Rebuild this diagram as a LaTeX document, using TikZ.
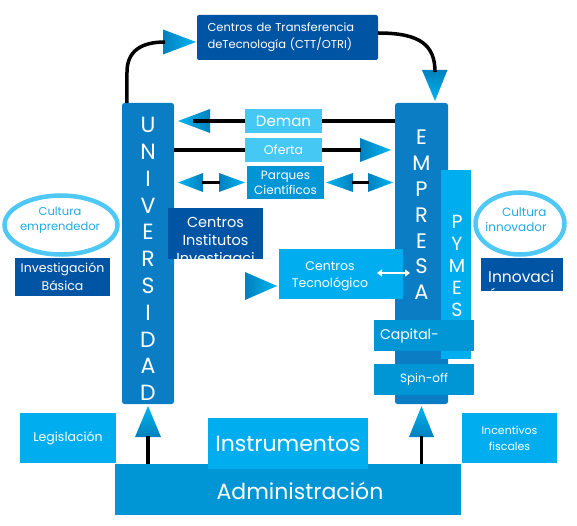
\documentclass[tikz,border=0pt]{standalone}
\usepackage{fontspec}
\setmainfont{Poppins}
\usetikzlibrary{shapes.geometric,arrows.meta}

\definecolor{unicol}{RGB}{11,125,196}
\definecolor{darkcol}{RGB}{0,84,164}
\definecolor{cyancol}{RGB}{0,174,239}
\definecolor{lightcol}{RGB}{70,200,245}
\definecolor{midcol}{RGB}{0,150,214}
\definecolor{ellcol}{RGB}{80,200,245}
\definecolor{elltext}{RGB}{30,170,228}
\definecolor{arrdark}{RGB}{0,128,190}
\definecolor{arrlight}{RGB}{0,182,240}

\newcommand{\fsz}[2]{\fontsize{#1}{#2}\selectfont}

\tikzset{
  box/.style={rectangle, inner sep=0pt, text=white, align=center},
  tall/.style={box, fill=unicol, rounded corners=2.5pt, minimum height=301},
  letters/.style={inner sep=0pt, text=white, align=center},
  bubble/.style={ellipse, draw=ellcol, line width=4.5pt, inner sep=0pt},
  link/.style={line width=3.5pt, black},
  tri r/.style={left color=arrdark, right color=arrlight},
  tri l/.style={left color=arrlight, right color=arrdark},
  tri u/.style={bottom color=arrdark, top color=arrlight},
  tri d/.style={top color=arrdark, bottom color=arrlight}
}

\begin{document}
\begin{tikzpicture}[x=1pt,y=-1pt]
  \useasboundingbox (0,0) rectangle (577,526);

  % the two columns
  \node[tall, minimum width=52] (univ) at (148,253.5) {};
  \node[letters, font=\fsz{22}{26.8}] (univtxt) at (148,259)
    {U\\N\\I\\V\\E\\R\\S\\I\\D\\A\\D};
  \node[tall, minimum width=53] (empresa) at (421.5,253.5) {};
  \node[letters, font=\fsz{21}{25.8}] (emptxt) at (421.5,215)
    {E\\M\\P\\R\\E\\S\\A};
  \node[box, fill=cyancol, minimum width=30, minimum height=189] (pymes) at (456,264.5) {};
  \node[letters, font=\fsz{19}{22}] (pymestxt) at (457,266) {P\\Y\\M\\E\\S};

  % boxes sitting on the columns
  \node[box, fill=cyancol, minimum width=124, minimum height=50] (ctec) at (341,274) {};
  \node[letters, font=\fsz{12.5}{17}] (ctectxt) at (330,276) {Centros\\Tecnológico};
  \node[box, fill=midcol, minimum width=100, minimum height=31, text width=88,
        align=left, font=\fsz{14}{16}] (capital) at (424,335.5) {Capital-};
  \node[box, fill=midcol, minimum width=100, minimum height=31,
        font=\fsz{12}{14}] (spin) at (424,379.5) {Spin-off};

  % arrow heads
  \shade[tri r] (163,29.5) -- (196,42) -- (163,54.5) -- cycle;
  \coordinate (cttin) at (165,42);
  \shade[tri d] (422,70) -- (447.5,70) -- (435,101) -- cycle;
  \coordinate (empin) at (435,72);
  \shade[tri l] (178,121) -- (210,109) -- (210,133) -- cycle;
  \coordinate (demanend) at (193,121);
  \shade[tri r] (360,138) -- (391,150) -- (360,162) -- cycle;
  \coordinate (oferarr) at (361,150);
  \shade[tri l] (178,182.5) -- (203,173) -- (203,192) -- cycle;
  \shade[tri r] (219,173) -- (245,182.5) -- (219,192) -- cycle;
  \shade[tri l] (326,182.5) -- (353,173) -- (353,192) -- cycle;
  \shade[tri r] (368,173) -- (393,182.5) -- (368,192) -- cycle;
  \shade[tri r] (245,272) -- (277,286) -- (245,300) -- cycle;
  \shade[tri u] (135,437) -- (148,406) -- (161,437) -- cycle;
  \coordinate (unitri) at (148,436);
  \shade[tri u] (409,437) -- (421.5,406) -- (434,437) -- cycle;
  \coordinate (emptri) at (421.5,436);

  % lower part
  \node[box, fill=midcol, minimum width=346, minimum height=51] (admin) at (288,489.5) {};
  \node[letters, font=\fsz{22}{24}] (admintxt) at (300,491) {Administración};
  \node[box, fill=cyancol, minimum width=160, minimum height=51,
        font=\fsz{22}{26}] (instr) at (288,443.5) {Instrumentos};
  \node[box, fill=cyancol, minimum width=96, minimum height=50,
        font=\fsz{12.5}{14}] (legis) at (68,438) {Legislación};
  \node[box, fill=cyancol, minimum width=95, minimum height=50,
        font=\fsz{11}{16}] (incent) at (509.5,438) {Incentivos\\fiscales};

  % connectors
  \draw[link] ([xshift=5pt]univ.north west) -- (127,72)
    .. controls (127,52) and (140,42) .. (cttin);
  \draw[link] (demanend) -- (empresa.west |- demanend);
  \draw[link] (univ.east |- oferarr) -- (oferarr);
  \draw[link] (202,182.5) -- (220,182.5);
  \draw[link] (352,182.5) -- (369,182.5);
  \draw[link] (admin.north -| unitri) -- (unitri);
  \draw[link] (admin.north -| emptri) -- (emptri);

  % labels between the columns
  \node[box, fill=darkcol, rounded corners=2pt, minimum width=181, minimum height=45,
        text width=160, align=left, font=\fsz{11.5}{17}] (ctt) at (287.5,37.5)
    {Centros de Transferencia\\deTecnología (CTT/OTRI)};
  \draw[link] ([yshift=4.5pt]ctt.east) .. controls (420,33) and (435,45) .. (empin);
  \node[box, fill=lightcol, minimum width=77, minimum height=24,
        font=\fsz{15}{17}] (deman) at (283.5,121) {Deman};
  \node[box, fill=lightcol, minimum width=77, minimum height=24,
        font=\fsz{12.5}{15}] (oferta) at (283.5,150) {Oferta};
  \node[box, fill=midcol, minimum width=77, minimum height=33,
        font=\fsz{12}{15}] (parques) at (285.5,182.5) {Parques\\Científicos};
  \node[box, fill=darkcol, minimum width=95, minimum height=51] (cinst) at (215.5,233.5) {};
  \begin{scope}
    \clip (cinst.south west) rectangle (cinst.north east);
    \node[letters, font=\fsz{14.5}{18}] (cinsttxt) at (215.5,242)
      {Centros\\Institutos\\Investigaci};
  \end{scope}

  % left side
  \node[bubble, minimum width=113, minimum height=59] (cemp) at (61,225) {};
  \node[letters, text=elltext, font=\fsz{11.5}{15}] (cemptxt) at (60,220.5)
    {Cultura\\emprendedor};
  \node[box, fill=darkcol, minimum width=95, minimum height=38,
        font=\fsz{12.5}{18}] (invbas) at (62.5,277) {Investigación\\Básica};

  % right side
  \node[bubble, minimum width=89, minimum height=62] (cinn) at (520,223.5) {};
  \node[letters, text=elltext, align=right, font=\fsz{12}{15}] (cinntxt) at (516,219.5)
    {Cultura\\innovador};
  \node[box, fill=darkcol, minimum width=82, minimum height=33] (innov) at (522,274.5) {};
  \begin{scope}
    \clip (innov.south west) rectangle (innov.north east);
    \node[letters, anchor=base west, font=\fsz{15.5}{18}] (innovtxt) at (488,282) {Innovaci};
    \node[letters, anchor=base west, font=\fsz{15.5}{18}] (innovend) at (488,300) {ón};
  \end{scope}

  % link between Tecnológico and Empresa
  \draw[white, line width=1.6pt, {Triangle[length=5pt,width=7pt]}-{Triangle[length=5pt,width=7pt]}]
    (377,273) -- (410,273);
\end{tikzpicture}
\end{document}
